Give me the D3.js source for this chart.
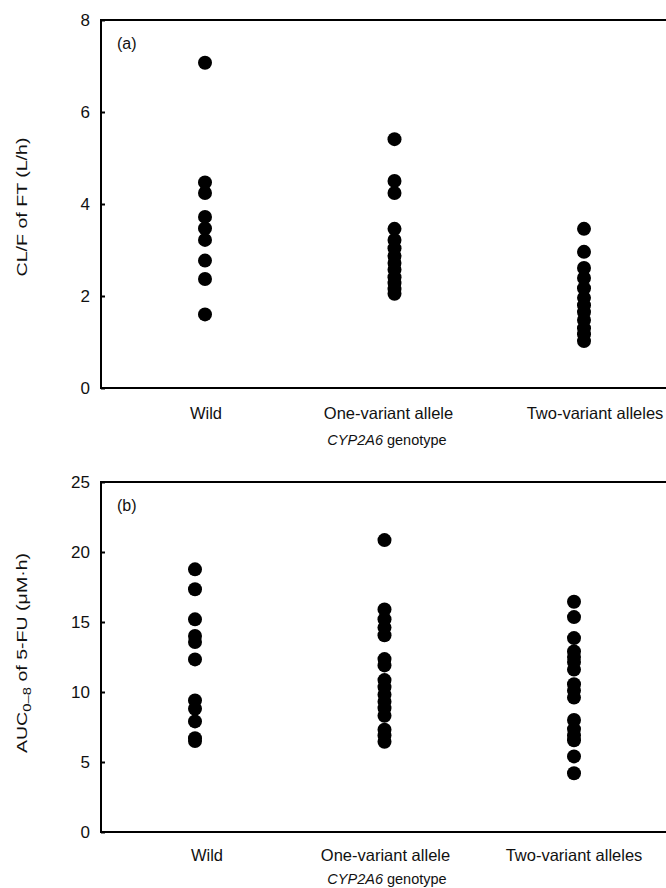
<!DOCTYPE html>
<html>
<head>
<meta charset="utf-8">
<script src="https://cdn.jsdelivr.net/npm/d3@7"></script>
<style>
  body { margin: 0; background: #fff; }
  svg { font-family: "Liberation Sans", Arial, sans-serif; }
  .tick text { fill: #111; }
  .cat { font-size: 16.5px; fill: #111; }
  .title { font-size: 14.5px; fill: #111; }
  .tag { font-size: 16px; fill: #111; }
</style>
</head>
<body>
<svg id="chart" width="666" height="888"></svg>
<script>
var categories = ["Wild", "One-variant allele", "Two-variant alleles"];

// (a) CL/F of FT (L/h)
var clWild = [7.07, 4.47, 4.24, 3.72, 3.47, 3.22, 2.77, 2.37, 1.6];
var clOne  = [5.41, 4.5, 4.24, 3.46, 3.22, 3.04, 2.87, 2.72, 2.57, 2.41, 2.28, 2.15, 2.05];
var clTwo  = [3.46, 2.96, 2.61, 2.39, 2.17, 1.96, 1.8, 1.65, 1.48, 1.3, 1.17, 1.02];

// (b) AUC0-8 of 5-FU (uM.h)
var aucWild = [18.76, 17.34, 15.19, 14.0, 13.57, 12.33, 9.4, 8.8, 7.9, 6.7, 6.5];
var aucOne  = [20.85, 15.9, 15.2, 14.6, 14.05, 12.35, 11.9, 10.85, 10.35, 9.8, 9.3, 8.85, 8.3, 7.3, 6.9, 6.45];
var aucTwo  = [16.45, 15.35, 13.85, 12.9, 12.5, 12.15, 11.6, 10.55, 10.1, 9.6, 8.0, 7.35, 6.9, 6.55, 5.4, 4.2];

var clTicks  = [0, 2, 4, 6, 8];
var aucTicks = [0, 5, 10, 15, 20, 25];

var svg = d3.select("#chart");

function drawPanel(opt) {
  var g = svg.append("g");
  var x = d3.scalePoint().domain(categories).range(opt.xRange);
  var y = d3.scaleLinear().domain(opt.yDomain).range([opt.bottom, opt.top]);

  // frame (right edge runs off the page, as in the source figure)
  g.append("rect")
      .attr("x", opt.left).attr("y", opt.top)
      .attr("width", 700 - opt.left).attr("height", opt.bottom - opt.top)
      .attr("fill", "none").attr("stroke", "#000").attr("stroke-width", 2);

  // y axis
  var ya = g.append("g")
      .attr("transform", "translate(" + opt.left + ",0)")
      .call(d3.axisLeft(y).tickValues(opt.ticks).tickSizeInner(-4).tickSizeOuter(0).tickPadding(11));
  ya.select(".domain").remove();
  ya.selectAll(".tick line").attr("stroke", "#000").attr("stroke-width", 2);
  ya.selectAll(".tick text").attr("font-size", 17);

  // points
  opt.series.forEach(function(vals, i) {
    g.selectAll(null).data(vals).enter().append("circle")
        .attr("cx", x(categories[i]))
        .attr("cy", function(d) { return y(d); })
        .attr("r", 7)
        .attr("fill", "#000");
  });

  // category labels
  g.selectAll(null).data(categories).enter().append("text")
      .attr("class", "cat")
      .attr("x", function(d, i) { return x(d) + opt.labelShift[i]; })
      .attr("y", opt.bottom + opt.catOff)
      .attr("text-anchor", "middle")
      .text(function(d) { return d; });

  // x title
  var xt = g.append("text")
      .attr("class", "title")
      .attr("x", 387).attr("y", opt.bottom + opt.titleOff)
      .attr("text-anchor", "middle");
  xt.append("tspan").attr("font-style", "italic").text("CYP2A6");
  xt.append("tspan").text(" genotype");

  // y title (stretched along its length like the source)
  var yt = g.append("text")
      .attr("class", "title")
      .attr("font-size", 17)
      .attr("transform", "translate(27," + opt.yTitleMid + ") rotate(-90) scale(1.35,1)")
      .attr("text-anchor", "middle");
  opt.yLabel(yt);

  // panel tag
  g.append("text")
      .attr("class", "tag")
      .attr("x", opt.left + 16).attr("y", opt.top + 29)
      .text(opt.tag);
}

drawPanel({
  top: 20, bottom: 388, left: 101,
  yDomain: [0, 8], ticks: clTicks,
  xRange: [205, 584], labelShift: [1, -6, 11],
  catOff: 31, titleOff: 57, yTitleMid: 207,
  series: [clWild, clOne, clTwo],
  tag: "(a)",
  yLabel: function(t) { t.text("CL/F of FT (L/h)"); }
});

drawPanel({
  top: 482, bottom: 832, left: 101,
  yDomain: [0, 25], ticks: aucTicks,
  xRange: [195, 574], labelShift: [12, 1, 0],
  catOff: 29, titleOff: 52, yTitleMid: 653,
  series: [aucWild, aucOne, aucTwo],
  tag: "(b)",
  yLabel: function(t) {
    t.append("tspan").text("AUC");
    t.append("tspan").attr("font-size", 11).attr("dy", 4).text("0\u20138");
    t.append("tspan").attr("dy", -4).text(" of 5-FU (\u03bcM\u00b7h)");
  }
});
</script>
</body>
</html>
